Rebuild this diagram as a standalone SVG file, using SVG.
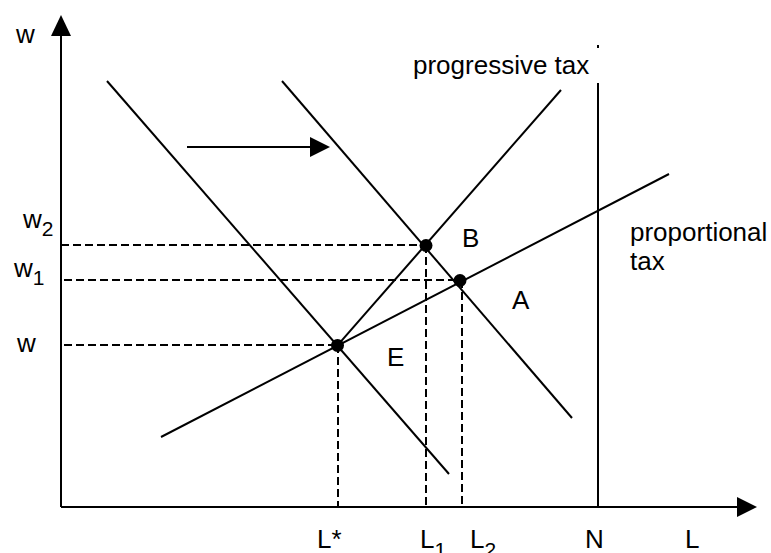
<svg xmlns="http://www.w3.org/2000/svg" width="771" height="553" viewBox="0 0 771 553">
<style>
.ln{stroke:#000;stroke-width:2;fill:none}
.ds{stroke:#000;stroke-width:2;fill:none;stroke-dasharray:8 4}
.t{font-family:"Liberation Sans",Arial,sans-serif;font-size:26px;fill:#000}
.s{font-size:21px}
</style>
<rect width="771" height="553" fill="#fff"/>
<g id="connectors">
  <line class="ln" x1="61" y1="507" x2="61" y2="33"/>
  <polygon points="61,15 51,36 71,36"/>
  <line class="ln" x1="61" y1="507" x2="739" y2="507"/>
  <polygon points="757,507 737,497 737,517"/>
  <line class="ln" x1="598" y1="83" x2="598" y2="507"/>
  <rect x="597" y="45" width="2" height="3"/>
  <line class="ln" x1="161" y1="437" x2="669" y2="174"/>
  <line class="ln" x1="337.5" y1="345.4" x2="561" y2="90"/>
  <line class="ln" x1="107" y1="81" x2="449" y2="474"/>
  <line class="ln" x1="282" y1="81" x2="572" y2="418"/>
  <line class="ln" x1="187" y1="147" x2="312" y2="147"/>
  <polygon points="330,147 310,137 310,157"/>
  <line class="ds" x1="61" y1="245" x2="425" y2="245"/>
  <line class="ds" x1="64" y1="280" x2="459" y2="280"/>
  <line class="ds" x1="64" y1="345" x2="337" y2="345"/>
  <line class="ds" x1="426" y1="245" x2="426" y2="507"/>
  <line class="ds" x1="462" y1="280" x2="462" y2="507"/>
  <line class="ds" x1="338" y1="345" x2="338" y2="507"/>
</g>
<g id="E"><circle cx="337.5" cy="345.4" r="6.5"/><text class="t" x="387" y="366">E</text></g>
<g id="B"><circle cx="426" cy="245.5" r="6.5"/><text class="t" x="462" y="247">B</text></g>
<g id="A"><circle cx="460" cy="280.5" r="6.5"/><text class="t" x="512" y="309">A</text></g>
<g id="labels">
  <text class="t" x="23" y="228">w<tspan class="s" dy="8">2</tspan></text>
  <text class="t" x="14" y="277">w<tspan class="s" dy="8">1</tspan></text>
  <text class="t" x="16" y="43">w</text>
  <text class="t" x="17" y="352">w</text>
  <text class="t" x="413" y="74">progressive tax</text>
  <text class="t" x="630" y="241">proportional</text>
  <text class="t" x="630" y="270">tax</text>
  <text class="t" x="317" y="548">L*</text>
  <text class="t" x="420" y="548">L<tspan class="s" dy="9">1</tspan></text>
  <text class="t" x="470" y="548">L<tspan class="s" dy="9">2</tspan></text>
  <text class="t" x="585" y="548">N</text>
  <text class="t" x="685" y="548">L</text>
</g>
</svg>
